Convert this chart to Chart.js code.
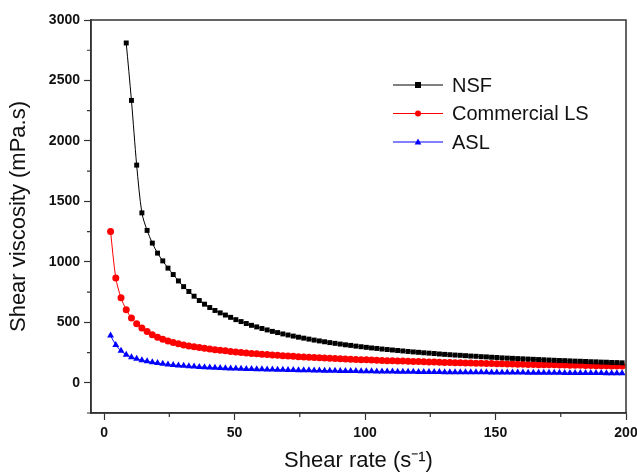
<!DOCTYPE html>
<html>
<head>
<meta charset="utf-8">
<script src="https://cdn.jsdelivr.net/npm/chart.js@4.4.0/dist/chart.umd.min.js"></script>
<style>
  html, body { margin:0; padding:0; background:#fff; }
  #wrap { width:637px; height:474px; }
</style>
</head>
<body>
<div id="wrap"><canvas id="chart" width="637" height="474"></canvas></div>
<script>
const shearRate = [2.5,4.5,6.5,8.5,10.5,12.5,14.5,16.5,18.5,20.5,22.5,24.5,26.5,28.5,30.5,32.5,34.5,36.5,38.5,40.5,
  42.5,44.5,46.5,48.5,50.5,52.5,54.5,56.5,58.5,60.5,62.5,64.5,66.5,68.5,70.5,72.5,74.5,76.5,78.5,80.5,
  82.5,84.5,86.5,88.5,90.5,92.5,94.5,96.5,98.5,100.5,102.5,104.5,106.5,108.5,110.5,112.5,114.5,116.5,118.5,120.5,
  122.5,124.5,126.5,128.5,130.5,132.5,134.5,136.5,138.5,140.5,142.5,144.5,146.5,148.5,150.5,152.5,154.5,156.5,158.5,160.5,
  162.5,164.5,166.5,168.5,170.5,172.5,174.5,176.5,178.5,180.5,182.5,184.5,186.5,188.5,190.5,192.5,194.5,196.5,198.5];

const nsf = [null,null,null,2810,2335,1800,1405,1260,1155,1072,1008,948,895,842,795,755,716,680,650,622,
  598,578,560,541,522,506,490,475,462,449,437,425,415,404,395,386,377,369,361,353,
  346,339,332,326,320,314,309,303,298,293,288,284,279,275,271,267,263,259,255,252,
  248,245,242,238,235,232,229,227,224,221,219,216,214,211,209,206,204,202,200,198,
  196,194,192,190,188,186,184,183,181,179,178,176,174,173,171,170,168,167,165];

const commercialLS = [1250,866,703,604,535,489,453,423,398,377,359,345,333,322,313,305,298,291,285,279,
  274,269,264,259,255,251,247,243,240,236,233,230,227,224,221,219,216,214,211,209,
  207,205,203,201,199,197,195,193,191,190,188,186,185,183,182,180,179,177,176,175,
  173,172,171,169,168,167,166,165,164,163,162,161,160,159,158,157,156,155,154,153,
  152,151,150,149,148,148,147,146,145,144,144,143,142,141,141,140,139,139,138];

const asl = [390,313,264,232,212,198,187,178,170,163,157,152,147,143,140,137,134,131,129,126,
  124,122,120,119,117,116,114,113,112,111,110,109,108,107,106,105,104,103,103,102,
  101,100,100,99,98,98,97,97,96,95,95,94,94,93,93,92,92,91,91,90,
  90,90,89,89,88,88,88,87,87,87,86,86,86,85,85,85,84,84,84,84,
  83,83,83,82,82,82,82,81,81,81,81,80,80,80,80,79,79,79,79];

const seriesNames = ['NSF', 'Commercial LS', 'ASL'];
const seriesColors = ['#000000', '#ff0000', '#0000ff'];
const seriesMarkers = ['rect', 'circle', 'triangle'];
const xTicksMajor = [0, 50, 100, 150, 200];
const yTicksMajor = [0, 500, 1000, 1500, 2000, 2500, 3000];

const toPoints = vals => shearRate.map((x, i) => ({x: x, y: vals[i]}));
const seriesData = [nsf, commercialLS, asl];

const FONT = "'Liberation Sans', Arial, sans-serif";

function drawMarker(ctx, style, x, y, r, color){
  ctx.fillStyle = color;
  ctx.beginPath();
  if(style === 'rect'){ ctx.rect(x - r, y - r, 2*r, 2*r); }
  else if(style === 'circle'){ ctx.arc(x, y, r, 0, Math.PI*2); }
  else { ctx.moveTo(x, y - r*1.2); ctx.lineTo(x + r*1.1, y + r*0.8); ctx.lineTo(x - r*1.1, y + r*0.8); ctx.closePath(); }
  ctx.fill();
}

// frame, minor ticks and the inside legend
const extras = {
  id: 'extras',
  afterDraw(chart){
    const {ctx, chartArea: a, scales: {x, y}} = chart;
    ctx.save();
    ctx.strokeStyle = '#333'; ctx.lineWidth = 1.5;
    ctx.strokeRect(a.left, a.top, a.right - a.left, a.bottom - a.top);
    ctx.lineWidth = 1.2;
    ctx.beginPath();
    for(let v = 25; v < 200; v += 50){
      const px = x.getPixelForValue(v);
      ctx.moveTo(px, a.bottom); ctx.lineTo(px, a.bottom + 4);
    }
    for(let v = -250; v < 3000; v += 500){
      const py = y.getPixelForValue(v);
      ctx.moveTo(a.left, py); ctx.lineTo(a.left - 4, py);
    }
    ctx.stroke();

    const rows = [85, 113.5, 142];
    seriesNames.forEach((name, i) => {
      const ly = rows[i];
      ctx.strokeStyle = seriesColors[i]; ctx.lineWidth = 1;
      ctx.beginPath(); ctx.moveTo(393, ly); ctx.lineTo(443, ly); ctx.stroke();
      drawMarker(ctx, seriesMarkers[i], 418, ly, 3, seriesColors[i]);
      ctx.fillStyle = '#111';
      ctx.font = '20px ' + FONT;
      ctx.textBaseline = 'middle';
      ctx.fillText(name, 452, ly + 1);
    });
    ctx.restore();
  }
};

new Chart(document.getElementById('chart').getContext('2d'), {
  type: 'line',
  data: {
    datasets: seriesNames.map((name, i) => ({
      label: name,
      data: toPoints(seriesData[i]),
      borderColor: seriesColors[i],
      backgroundColor: seriesColors[i],
      borderWidth: 1,
      pointStyle: seriesMarkers[i],
      pointRadius: i === 2 ? 4 : 3.5,
      pointBorderWidth: 0,
      tension: 0.3,
      spanGaps: true
    }))
  },
  options: {
    responsive: false,
    animation: false,
    events: [],
    layout: { padding: { top: 20, right: 11, left: 0, bottom: 0 } },
    plugins: { legend: { display: false }, tooltip: { enabled: false } },
    scales: {
      x: {
        type: 'linear', min: -5, max: 200,
        afterFit(s){ s.height = 61; s.paddingRight = 0; s.paddingLeft = 0; },
        border: { display: true, color: '#333', width: 1.5 },
        grid: { drawOnChartArea: false, tickLength: 7, tickWidth: 1.2,
                tickColor: c => xTicksMajor.includes(c.tick.value) ? '#333' : 'rgba(0,0,0,0)' },
        ticks: { stepSize: 50, includeBounds: false, autoSkip: false, maxRotation: 0, padding: 5,
                 color: '#111', font: { family: FONT, size: 14, weight: 'bold' },
                 callback: v => xTicksMajor.includes(v) ? String(v) : '' },
        title: { display: true, text: 'Shear rate (s\u207B\u00B9)', color: '#111',
                 font: { family: FONT, size: 22 }, padding: { top: 0, bottom: 0 } }
      },
      y: {
        type: 'linear', min: -250, max: 3000,
        afterFit(s){ s.width = 91; },
        border: { display: true, color: '#333', width: 1.5 },
        grid: { drawOnChartArea: false, tickLength: 7, tickWidth: 1.2,
                tickColor: c => yTicksMajor.includes(c.tick.value) ? '#333' : 'rgba(0,0,0,0)' },
        ticks: { stepSize: 250, autoSkip: false, padding: 4,
                 color: '#111', font: { family: FONT, size: 14, weight: 'bold' },
                 callback: v => yTicksMajor.includes(v) ? String(v) : '' },
        title: { display: true, text: 'Shear viscosity (mPa.s)', color: '#111',
                 font: { family: FONT, size: 22 }, padding: { top: 6, bottom: 0 } }
      }
    }
  },
  plugins: [extras]
});
</script>
</body>
</html>
